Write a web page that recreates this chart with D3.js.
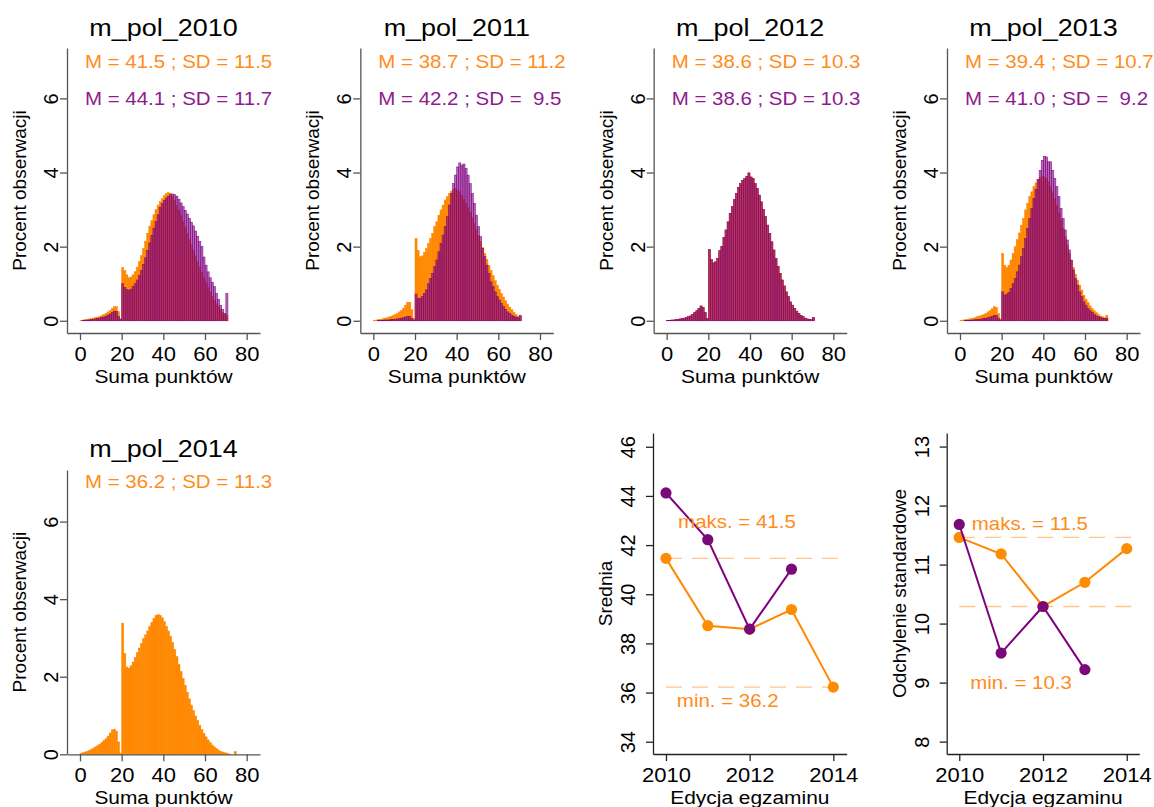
<!DOCTYPE html>
<html>
<head>
<meta charset="utf-8">
<script src="https://cdn.jsdelivr.net/npm/d3@7"></script>
<style>
  body { margin: 0; background: #fff; }
  svg { display: block; }
  text { font-family: "Liberation Sans", Arial, sans-serif; }
</style>
</head>
<body>
<div id="chart"></div>
<script>
// exam editions
const years = [2010, 2011, 2012, 2013, 2014];

// mean and SD per edition (orange = all, purple = second series, no 2014)
const meanOrange = [41.46, 38.72, 38.58, 39.38, 36.22];
const meanPurple = [44.12, 42.22, 38.58, 41.02];
const sdOrange = [11.46, 11.18, 10.29, 10.70, 11.27];
const sdPurple = [11.68, 9.50, 10.29, 9.22];

// percent of observations per score (index = score)
const histOrange2010 = [0.01,0.02,0.03,0.04,0.05,0.06,0.07,0.09,0.10,0.12,
  0.14,0.17,0.20,0.24,0.28,0.34,0.38,0.38,0.25,0.06,
  1.44,1.36,1.24,1.16,1.18,1.24,1.33,1.45,1.60,1.76,
  1.95,2.15,2.36,2.55,2.70,2.86,3.00,3.12,3.22,3.30,
  3.38,3.43,3.46,3.44,3.36,3.25,3.12,2.98,2.84,2.68,
  2.52,2.36,2.20,2.05,1.90,1.75,1.60,1.45,1.30,1.16,
  1.03,0.90,0.78,0.66,0.56,0.46,0.38,0.30,0.23,0.18,
  0.15];
const histPurple2010 = [0.00,0.01,0.01,0.02,0.02,0.03,0.04,0.05,0.06,0.07,
  0.09,0.10,0.12,0.15,0.18,0.22,0.26,0.25,0.12,0.04,
  1.00,0.90,0.84,0.82,0.85,0.92,1.00,1.10,1.22,1.36,
  1.52,1.70,1.90,2.10,2.30,2.50,2.68,2.86,3.06,3.16,
  3.25,3.31,3.36,3.40,3.42,3.40,3.36,3.28,3.18,3.08,
  2.98,2.88,2.76,2.66,2.56,2.42,2.28,2.14,2.00,1.72,
  1.50,1.32,1.16,1.04,0.92,0.74,0.58,0.42,0.30,0.20,
  0.74];
const histOrange2011 = [0.01,0.02,0.03,0.04,0.05,0.07,0.08,0.10,0.12,0.14,
  0.17,0.20,0.24,0.28,0.34,0.42,0.50,0.50,0.30,0.06,
  2.22,1.90,1.73,1.75,1.85,1.95,2.09,2.22,2.36,2.54,
  2.67,2.85,2.99,3.12,3.26,3.35,3.43,3.50,3.55,3.57,
  3.53,3.48,3.39,3.27,3.17,3.05,2.92,2.78,2.62,2.46,
  2.30,2.14,1.98,1.82,1.66,1.50,1.36,1.22,1.08,0.96,
  0.85,0.74,0.64,0.54,0.45,0.37,0.30,0.23,0.17,0.12,
  0.12];
const histPurple2011 = [0.00,0.00,0.01,0.01,0.01,0.02,0.02,0.02,0.03,0.03,
  0.04,0.05,0.06,0.07,0.08,0.10,0.11,0.11,0.06,0.02,
  0.72,0.60,0.60,0.65,0.74,0.83,1.00,1.14,1.28,1.46,
  1.64,1.86,2.09,2.31,2.54,2.81,3.12,3.44,3.70,3.93,
  4.15,4.26,4.20,4.23,4.11,3.93,3.70,3.44,3.17,2.85,
  2.54,2.27,1.95,1.73,1.50,1.28,1.05,0.92,0.78,0.65,
  0.56,0.47,0.38,0.31,0.24,0.20,0.15,0.12,0.10,0.08,
  0.15];
const histOrange2012 = [0.01,0.01,0.02,0.02,0.03,0.04,0.05,0.06,0.07,0.09,
  0.11,0.13,0.17,0.22,0.27,0.33,0.40,0.36,0.22,0.06,
  1.92,1.65,1.56,1.59,1.68,1.89,2.01,2.25,2.45,2.67,
  2.90,3.08,3.27,3.44,3.60,3.70,3.79,3.84,3.90,3.99,
  3.88,3.84,3.70,3.57,3.39,3.21,3.00,2.81,2.58,2.36,
  2.13,1.91,1.68,1.47,1.28,1.10,0.94,0.78,0.65,0.51,
  0.42,0.33,0.26,0.20,0.14,0.11,0.07,0.05,0.04,0.03,
  0.09];
const histPurple2012 = histOrange2012; // both groups identical in 2012
const histOrange2013 = [0.01,0.02,0.03,0.04,0.05,0.06,0.07,0.09,0.11,0.13,
  0.15,0.17,0.20,0.24,0.28,0.33,0.38,0.36,0.20,0.05,
  1.82,1.50,1.44,1.50,1.64,1.82,2.00,2.19,2.37,2.58,
  2.76,2.99,3.17,3.35,3.48,3.62,3.72,3.81,3.87,3.90,
  3.88,3.84,3.75,3.62,3.48,3.30,3.12,2.91,2.72,2.49,
  2.27,2.04,1.82,1.62,1.44,1.26,1.10,0.96,0.83,0.69,
  0.58,0.49,0.40,0.33,0.27,0.22,0.17,0.13,0.11,0.09,
  0.15];
const histPurple2013 = [0.00,0.00,0.01,0.01,0.01,0.02,0.02,0.03,0.03,0.04,
  0.05,0.06,0.07,0.08,0.10,0.12,0.15,0.14,0.07,0.02,
  0.78,0.69,0.72,0.76,0.87,1.00,1.14,1.32,1.50,1.73,
  1.95,2.22,2.49,2.76,3.03,3.30,3.54,3.81,4.06,4.33,
  4.44,4.42,4.29,4.29,4.06,3.84,3.62,3.35,3.03,2.76,
  2.45,2.18,1.91,1.64,1.37,1.14,0.96,0.78,0.65,0.51,
  0.42,0.33,0.27,0.22,0.17,0.13,0.11,0.09,0.07,0.06,
  0.06];
const histOrange2014 = [0.02,0.04,0.06,0.08,0.10,0.13,0.16,0.19,0.22,0.26,
  0.30,0.35,0.40,0.47,0.55,0.63,0.65,0.60,0.32,0.03,
  3.38,2.60,2.25,2.22,2.28,2.38,2.50,2.62,2.74,2.86,
  2.98,3.08,3.18,3.30,3.40,3.50,3.58,3.60,3.58,3.52,
  3.42,3.30,3.18,3.04,2.88,2.70,2.52,2.32,2.14,1.96,
  1.78,1.60,1.43,1.27,1.13,0.99,0.87,0.75,0.64,0.54,
  0.45,0.37,0.30,0.24,0.19,0.15,0.11,0.08,0.06,0.04,
  0.03,0.01,0.00,0.00,0.07];

const xTicksHist = [0, 20, 40, 60, 80];
const yTicksHist = [0, 2, 4, 6];
const yTicksMean = [34, 36, 38, 40, 42, 44, 46];
const yTicksSd = [8, 9, 10, 11, 12, 13];
const xTicksYear = [2010, 2012, 2014];

const W = 1154, H = 807;
const ORANGE = "#ff8800", PURPLE = "#800080";
const ORANGE_TXT = "#ff8c1a", PURPLE_TXT = "#8e1a8e";
const SX = 1.1;          // fonts in the original look a bit wide
const COL_STEP = 293.33;

const svg = d3.select("#chart").append("svg")
    .attr("width", W)
    .attr("height", H);

function label(g, x, y, str, o = {}) {
    return g.append("text")
        .attr("transform", o.rotate
            ? `translate(${x},${y}) rotate(-90)`
            : `translate(${x},${y}) scale(${SX},1)`)
        .attr("text-anchor", o.anchor || "middle")
        .style("font-size", (o.size || 19) + "px")
        .style("white-space", "pre")
        .attr("fill", o.color || "#000")
        .text(str);
}

function styleAxis(ax, color) {
    ax.select(".domain").attr("stroke", color).attr("stroke-width", 1.3);
    ax.selectAll(".tick line").attr("stroke", color).attr("stroke-width", 1.3);
    ax.selectAll("text").style("font-size", "20px").attr("fill", "#000");
}

function xAxisAt(g, x, yPos, ticks, color) {
    const ax = g.append("g")
        .attr("transform", `translate(0,${yPos})`)
        .call(d3.axisBottom(x).tickValues(ticks).tickSize(7).tickSizeOuter(0).tickFormat(d3.format("d")));
    styleAxis(ax, color);
    ax.selectAll("text").attr("y", 28).attr("dy", 0).attr("transform", `scale(${SX},1)`);
}

function yAxisAt(g, y, xPos, ticks, gap, color) {
    const ax = g.append("g")
        .attr("transform", `translate(${xPos},0)`)
        .call(d3.axisLeft(y).tickValues(ticks).tickSize(7).tickSizeOuter(0).tickFormat(d3.format("d")));
    styleAxis(ax, color);
    ax.selectAll("text")
        .attr("transform", "rotate(-90)")
        .attr("x", 0).attr("y", -gap).attr("dy", 0)
        .attr("text-anchor", "middle");
}

const fmt = v => v.toFixed(1).padStart(4, " ");

// ---------- histograms ----------
const rows = [
    { top: 48, bottom: 333, ymin: -0.33, ymax: 7.36, title: 36, stats: [68.3, 105] },
    { top: 470, bottom: 754.3, ymin: 0, ymax: 7.33, title: 456.7, stats: [488.3] }
];

const histPanels = [
    { idx: 0, orange: histOrange2010, purple: histPurple2010, col: 0, row: 0 },
    { idx: 1, orange: histOrange2011, purple: histPurple2011, col: 1, row: 0 },
    { idx: 2, orange: histOrange2012, purple: histPurple2012, col: 2, row: 0 },
    { idx: 3, orange: histOrange2013, purple: histPurple2013, col: 3, row: 0 },
    { idx: 4, orange: histOrange2014, purple: null, col: 0, row: 1 }
];

histPanels.forEach(p => {
    const r = rows[p.row];
    const left = 67 + COL_STEP * p.col;
    const g = svg.append("g");
    const x = d3.scaleLinear().domain([-6.24, 86.4]).range([left, left + 193]);
    const y = d3.scaleLinear().domain([r.ymin, r.ymax]).range([r.bottom, r.top]);

    // each score s is a bar on [s, s+1]; thin stroke hides seams between bars
    g.append("g").selectAll("rect")
        .data(p.orange)
        .join("rect")
        .attr("x", (d, i) => x(i))
        .attr("width", (d, i) => x(i + 1) - x(i))
        .attr("y", d => y(d))
        .attr("height", d => y(0) - y(d))
        .attr("fill", ORANGE)
        .attr("stroke", ORANGE)
        .attr("stroke-width", 0.5);

    if (p.purple) {
        g.append("g").selectAll("rect")
            .data(p.purple)
            .join("rect")
            .attr("x", (d, i) => x(i))
            .attr("width", (d, i) => x(i + 1) - x(i))
            .attr("y", d => y(d))
            .attr("height", d => y(0) - y(d))
            .attr("fill", PURPLE)
            .attr("fill-opacity", 0.58)
            .attr("stroke", PURPLE)
            .attr("stroke-opacity", 0.9)
            .attr("stroke-width", 0.6);
    }

    xAxisAt(g, x, r.bottom, xTicksHist, "#555");
    yAxisAt(g, y, left, yTicksHist, 9, "#555");

    const cx = left + 96.5;
    label(g, cx, r.title, `m_pol_${years[p.idx]}`, { size: 24.5 });
    label(g, x(0) + 5, r.stats[0], `M = ${fmt(meanOrange[p.idx])} ; SD = ${fmt(sdOrange[p.idx])}`,
        { anchor: "start", size: 18.6, color: ORANGE_TXT });
    if (p.purple) {
        label(g, x(0) + 5, r.stats[1], `M = ${fmt(meanPurple[p.idx])} ; SD = ${fmt(sdPurple[p.idx])}`,
            { anchor: "start", size: 18.6, color: PURPLE_TXT });
    }
    label(g, cx, r.bottom + 50, "Suma punktów", { size: 19 });
    label(g, left - 41, (r.top + r.bottom) / 2, "Procent obserwacji", { size: 19, rotate: true });
});

// ---------- mean / SD over editions ----------
const linePanels = [
    { left: 653, right: 846.7, xdom: [2009.69, 2014.32], ydom: [33.5, 46.56], yticks: yTicksMean,
      title: "Srednia", orange: meanOrange, purple: meanPurple,
      notes: [{ kind: "maks.", x: 2010.29, y: 42.68 }, { kind: "min.", x: 2010.26, y: 35.42 }] },
    { left: 946.7, right: 1139.3, xdom: [2009.7, 2014.3], ydom: [7.79, 13.23], yticks: yTicksSd,
      title: "Odchylenie standardowe", orange: sdOrange, purple: sdPurple,
      notes: [{ kind: "maks.", x: 2010.3, y: 11.59 }, { kind: "min.", x: 2010.26, y: 8.9 }] }
];

linePanels.forEach(p => {
    const top = 433, bottom = 754;
    const g = svg.append("g");
    const x = d3.scaleLinear().domain(p.xdom).range([p.left, p.right]);
    const y = d3.scaleLinear().domain(p.ydom).range([bottom, top]);
    const hi = d3.max(p.orange), lo = d3.min(p.orange);

    [hi, lo].forEach(v => {
        g.append("line")
            .attr("x1", x(2010)).attr("x2", x(p.xdom[1]) - 2)
            .attr("y1", y(v)).attr("y2", y(v))
            .attr("stroke", "#ffc48c")
            .attr("stroke-width", 1.3)
            .attr("stroke-dasharray", "16,10");
    });

    const line = d3.line().x((d, i) => x(years[i])).y(d => y(d));
    [[p.orange, ORANGE, "#ff8c00"], [p.purple, PURPLE, "#7a0a7a"]].forEach(([data, lc, pc]) => {
        g.append("path").datum(data)
            .attr("d", line)
            .attr("fill", "none")
            .attr("stroke", lc)
            .attr("stroke-width", 2);
        g.append("g").selectAll("circle")
            .data(data)
            .join("circle")
            .attr("cx", (d, i) => x(years[i]))
            .attr("cy", d => y(d))
            .attr("r", 5.6)
            .attr("fill", pc);
    });

    xAxisAt(g, x, bottom, xTicksYear, "#222");
    yAxisAt(g, y, p.left, p.yticks, 18, "#222");

    p.notes.forEach(n => {
        const v = n.kind === "maks." ? hi : lo;
        label(g, x(n.x), y(n.y), `${n.kind} = ${v.toFixed(1)}`,
            { anchor: "start", size: 18.6, color: ORANGE_TXT });
    });

    label(g, (p.left + p.right) / 2, bottom + 49.5, "Edycja egzaminu", { size: 19 });
    label(g, p.left - 41, (top + bottom) / 2, p.title, { size: 19, rotate: true });
});
</script>
</body>
</html>
